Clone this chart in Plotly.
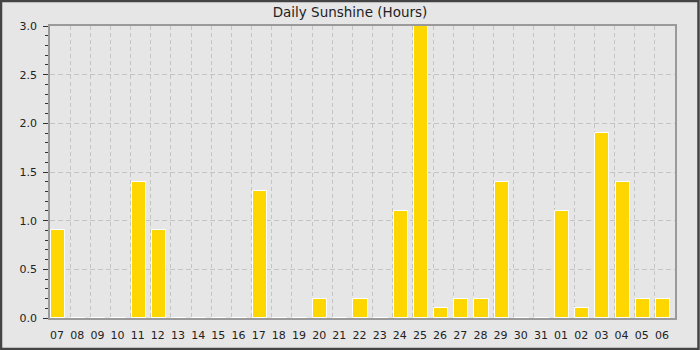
import plotly.graph_objects as go

days = ["07", "08", "09", "10", "11", "12", "13", "14", "15", "16", "17", "18", "19",
        "20", "21", "22", "23", "24", "25", "26", "27", "28", "29", "30", "31",
        "01", "02", "03", "04", "05", "06"]
sunshine = [0.9, 0, 0, 0, 1.4, 0.9, 0, 0, 0, 0, 1.3, 0, 0,
            0.2, 0, 0.2, 0, 1.1, 3.0, 0.1, 0.2, 0.2, 1.4, 0, 0,
            1.1, 0.1, 1.9, 1.4, 0.2, 0.2]
title_text = "Daily Sunshine (Hours)"

W, H = 700, 350
ML, MR, MT, MB = 50, 25, 26, 32
pw = W - ML - MR
ph = H - MT - MB

idx = list(range(len(days)))
bar_x = [i + 0.4 for i in idx]
tick_x = [i + 0.35 for i in idx]

font = "DejaVu Sans, Verdana, sans-serif"
grid_col = "#c4c4c4"
frame_col = "#9a9a9a"

fig = go.Figure()
fig.add_trace(go.Bar(
    x=bar_x, y=sunshine, width=0.7,
    marker=dict(color="#ffd700", line=dict(color="#ffffff", width=1)),
    hoverinfo="skip",
))

fig.update_layout(
    width=W, height=H,
    margin=dict(l=ML, r=MR, t=MT, b=MB, pad=0, autoexpand=False),
    paper_bgcolor="#e6e6e6",
    plot_bgcolor="#e6e6e6",
    showlegend=False,
    font=dict(family=font, size=11, color="#222222"),
    title=dict(text=title_text, x=0.5, xanchor="center", xref="container",
               y=1 - 12 / H, yanchor="middle", yref="container",
               font=dict(family=font, size=13.5, color="#222222")),
    bargap=0,
)

fig.update_xaxes(
    type="linear", range=[0, len(days)],
    tickmode="array", tickvals=tick_x, ticktext=days,
    showgrid=False, zeroline=False, automargin=False,
    ticks="", ticklabelstandoff=6,
    showline=True, linecolor=frame_col, linewidth=1.5, mirror=True,
    minor=dict(tick0=0, dtick=1, showgrid=True, gridcolor=grid_col,
               griddash="4px,3px", gridwidth=1, ticks=""),
    tickfont=dict(size=11, color="#222222"),
    fixedrange=True,
)

fig.update_yaxes(
    range=[0, 3.0], tick0=0, dtick=0.5, tickformat=".1f",
    showgrid=True, gridcolor=grid_col, griddash="5px,3px", gridwidth=1,
    zeroline=False, automargin=False,
    ticks="outside", ticklen=5, tickcolor="#333333", tickwidth=1,
    ticklabelstandoff=4,
    minor=dict(tick0=0, dtick=0.1, ticks="outside", ticklen=3,
               tickcolor="#333333", tickwidth=1, showgrid=False),
    showline=True, linecolor=frame_col, linewidth=1.5, mirror=True,
    tickfont=dict(size=11, color="#222222"),
    fixedrange=True,
)

# dark border around the whole image
fig.add_shape(
    type="rect", xref="paper", yref="paper",
    x0=(1 - ML) / pw, x1=(W - 1.5 - ML) / pw,
    y0=-(MB - 1) / ph, y1=1 + (MT - 1) / ph,
    line=dict(color="#444444", width=2.5), fillcolor="rgba(0,0,0,0)",
    layer="above",
)

fig.write_html("out.html", config={"displayModeBar": False})
